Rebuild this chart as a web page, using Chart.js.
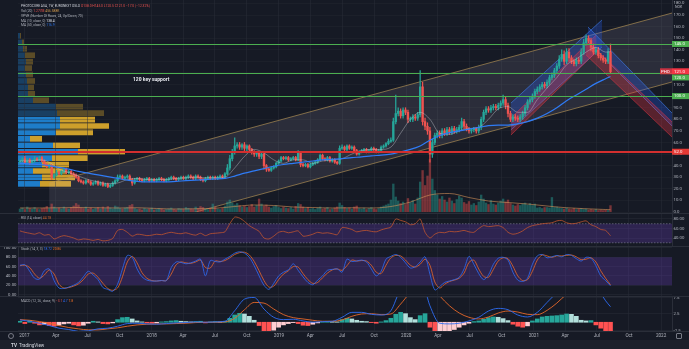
<!DOCTYPE html>
<html>
<head>
<meta charset="utf-8">
<title>PHOTOCURE ASA, 1W</title>
<script src="https://cdn.jsdelivr.net/npm/chart.js@4.4.1/dist/chart.umd.min.js"></script>
<style>
  html, body { margin: 0; padding: 0; background: #161a25; }
  #wrap { position: relative; width: 689px; height: 349px; overflow: hidden; background: #161a25;
          font-family: Roboto, "Liberation Sans", Arial, sans-serif; }
  #wrap canvas { position: absolute; left: 0; }
  .sep { position: absolute; left: 0; width: 689px; height: 1px; background: #2a2e39; }
  .txt { position: absolute; white-space: nowrap; color: #b2b5be; font-size: 3.3px; line-height: 4px; }
  .dn { color: #ef5350; }
  #foot { position: absolute; left: 0; top: 340px; width: 689px; height: 9px; background: #1c202b; }
  #foot span { position: absolute; top: 2.5px; font-size: 4.6px; line-height: 5px; color: #d1d4dc; }
  .note { position: absolute; white-space: nowrap; color: #e8eaf0; font-size: 5px; font-weight: bold; line-height: 6px; }
  .ico { position: absolute; width: 4px; height: 4px; border: 0.6px solid #787b86; border-radius: 50%; }
</style>
</head>
<body>
<div id="wrap">
  <canvas id="vp" width="689" height="213" style="top:0"></canvas>
  <canvas id="main" width="689" height="213" style="top:0"></canvas>
  <canvas id="rsi" width="689" height="33" style="top:213px"></canvas>
  <canvas id="stoch" width="689" height="50" style="top:246px"></canvas>
  <canvas id="macd" width="689" height="44" style="top:296px"></canvas>
  <div class="sep" style="top:213px"></div>
  <div class="sep" style="top:246px"></div>
  <div class="sep" style="top:296px"></div>
  <div class="sep" style="top:331px"></div>

  <div class="txt" style="left:21px;top:4px"><span style="color:#d1d4dc">PHOTOCURE ASA, 1W, EURONEXT OSLO</span> <span class="dn">O138.0 H145.0 L120.5 C121.0 −17.0 (−12.32%)</span></div>
  <div class="txt" style="left:21px;top:9px">Vol (20) <span class="dn">1.277M</span> <span style="color:#d39a4c">456.588K</span></div>
  <div class="txt" style="left:21px;top:13.7px">VPVR (Number Of Rows, 24, Up/Down, 70)</div>
  <div class="txt" style="left:21px;top:18.7px">MA (10, close, 0) <span style="color:#e0e3eb">138.4</span></div>
  <div class="txt" style="left:21px;top:23.3px">MA (50, close, 0) <span style="color:#2f7bf5">116.9</span></div>
  <div class="note" style="left:133px;top:76px">120 key support</div>

  <div class="txt" style="left:21px;top:216.3px">RSI (14, close) <span style="color:#d2632e">44.78</span></div>
  <div class="txt" style="left:21px;top:247px">Stoch (14, 3, 3) <span style="color:#2f6df5">18.72</span> <span style="color:#f07026">20.86</span></div>
  <div class="txt" style="left:21px;top:298.7px">MACD (12, 26, close, 9) <span class="dn">−3.1</span> <span style="color:#2f6df5">4.7</span> <span style="color:#f07026">7.8</span></div>

  <div class="ico" style="left:8px;top:333px"></div>
  <div class="ico" style="left:676px;top:333px;border-radius:1px"></div>
  <div id="foot"><span style="left:11px;font-weight:bold">TV</span><span style="left:19px">TradingView</span></div>
</div>

<script>
Chart.defaults.font.family = 'Roboto, "Liberation Sans", sans-serif';
Chart.defaults.animation = false;

// weekly bars, week 0 = week of 19 Dec 2016
const firstWeek = Date.UTC(2016, 11, 19);
const weekOf = d => (Date.parse(d) - firstWeek) / 604800000;

const timeTickDates = ['2017-01-01', '2017-04-01', '2017-07-01', '2017-10-01', '2018-01-01', '2018-04-01', '2018-07-01',
  '2018-10-01', '2019-01-01', '2019-04-01', '2019-07-01', '2019-10-01', '2020-01-01', '2020-04-01', '2020-07-01',
  '2020-10-01', '2021-01-01', '2021-04-01', '2021-07-01', '2021-10-01', '2022-01-01'];
const timeTickLabels = ['2017', 'Apr', 'Jul', 'Oct', '2018', 'Apr', 'Jul', 'Oct', '2019', 'Apr', 'Jul', 'Oct',
  '2020', 'Apr', 'Jul', 'Oct', '2021', 'Apr', 'Jul', 'Oct', '2022'];
const tickWeeks = timeTickDates.map(weekOf);

// price (NOK), weekly closes
const firstOpen = 43;
const closes = [
  44, 46, 43, 45, 42, 44, 46, 45, 47, 44,
  41, 39, 40, 30, 32, 34, 33, 35, 37, 34,
  35, 33, 32, 30, 27, 26, 25, 27, 26, 24,
  25, 26, 24, 25, 23, 24, 22, 23, 25, 27,
  30, 31, 29, 30, 31, 28, 25, 28, 29, 28,
  27, 28, 29, 27, 28, 27, 28, 29, 28, 27,
  28, 29, 30, 29, 28, 29, 30, 29, 30, 31,
  30, 29, 31, 30, 28, 27, 29, 30, 29, 30,
  29, 30, 31, 30, 33, 38, 46, 52, 57, 58,
  56, 58, 55, 57, 54, 52, 50, 51, 48, 50,
  40, 37, 36, 38, 39, 42, 44, 47, 46, 47,
  45, 46, 47, 45, 51, 41, 40, 41, 39, 41,
  42, 43, 45, 49, 46, 45, 47, 44, 45, 43,
  42, 55, 56, 54, 57, 55, 56, 53, 50, 52,
  53, 54, 52, 53, 55, 54, 52, 53, 56, 57,
  59, 61, 62, 78, 85, 87, 83, 88, 86, 80,
  80, 82, 81, 84, 108, 78, 74, 70, 50, 60,
  66, 68, 66, 70, 68, 71, 69, 72, 70, 71,
  73, 78, 74, 72, 70, 71, 72, 70, 73, 80,
  86, 89, 88, 90, 91, 90, 92, 94, 97, 92,
  85, 80, 82, 81, 80, 82, 85, 90, 95, 97,
  100, 104, 106, 108, 110, 109, 112, 116, 118, 122,
  126, 132, 136, 130, 138, 133, 130, 128, 131, 130,
  138, 146, 150, 148, 142, 138, 140, 135, 133, 131,
  130, 138, 121
];
// wick length above / below the body
const wickUp = [
  1, 1, 2, 1, 1, 1, 2, 1, 1, 1,
  1, 1, 1, 1, 1, 2, 1, 1, 1, 1,
  1, 1, 1, 1, 1, 1, 1, 1, 1, 1,
  1, 1, 1, 1, 1, 1, 1, 1, 1, 1,
  2, 1, 1, 1, 1, 1, 1, 1, 1, 1,
  1, 1, 1, 1, 1, 1, 1, 1, 1, 1,
  1, 1, 1, 1, 1, 1, 1, 1, 1, 1,
  1, 1, 1, 1, 1, 1, 1, 1, 1, 1,
  1, 1, 1, 1, 1, 3, 3, 2, 7, 2,
  2, 1, 2, 1, 1, 1, 1, 1, 1, 2,
  1, 1, 1, 1, 1, 1, 1, 1, 1, 1,
  1, 1, 1, 1, 2, 1, 1, 1, 1, 1,
  1, 1, 1, 1, 1, 1, 1, 1, 1, 1,
  1, 2, 2, 1, 1, 1, 1, 1, 1, 1,
  1, 1, 1, 1, 1, 1, 1, 1, 1, 1,
  1, 2, 2, 3, 16, 3, 2, 2, 2, 2,
  2, 2, 2, 2, 14, 4, 3, 3, 3, 3,
  2, 2, 2, 2, 2, 2, 2, 2, 2, 2,
  2, 3, 2, 2, 1, 1, 1, 1, 2, 2,
  2, 2, 2, 2, 2, 2, 2, 2, 4, 2,
  2, 2, 2, 2, 2, 2, 2, 2, 2, 2,
  2, 2, 2, 2, 2, 2, 2, 2, 2, 2,
  2, 3, 4, 3, 3, 3, 2, 2, 2, 2,
  3, 3, 3, 2, 2, 3, 2, 2, 2, 2,
  2, 3, 7
];
const wickDn = [
  1, 1, 1, 1, 1, 1, 1, 1, 1, 1,
  1, 1, 1, 2, 1, 1, 1, 1, 1, 1,
  1, 1, 1, 1, 1, 1, 1, 1, 1, 1,
  1, 1, 1, 1, 1, 1, 1, 1, 1, 1,
  1, 1, 1, 1, 1, 1, 2, 1, 1, 1,
  1, 1, 1, 1, 1, 1, 1, 1, 1, 1,
  1, 1, 1, 1, 1, 1, 1, 1, 1, 1,
  1, 1, 1, 1, 1, 1, 1, 1, 1, 1,
  1, 1, 1, 1, 1, 1, 2, 2, 2, 2,
  2, 2, 2, 2, 2, 2, 2, 2, 2, 2,
  3, 2, 1, 1, 1, 1, 1, 1, 1, 1,
  1, 1, 1, 1, 1, 2, 1, 1, 1, 1,
  1, 1, 1, 1, 1, 1, 1, 1, 1, 1,
  1, 1, 1, 1, 1, 1, 1, 1, 1, 1,
  1, 1, 1, 1, 1, 1, 1, 1, 1, 1,
  1, 1, 1, 1, 2, 2, 2, 2, 2, 3,
  2, 2, 2, 2, 2, 3, 3, 3, 7, 3,
  2, 2, 2, 2, 2, 2, 2, 2, 2, 2,
  2, 2, 2, 2, 2, 2, 2, 2, 2, 2,
  2, 2, 2, 2, 2, 2, 2, 2, 2, 3,
  3, 2, 2, 2, 2, 2, 2, 2, 2, 2,
  2, 2, 2, 2, 2, 2, 2, 2, 2, 2,
  2, 2, 2, 3, 2, 3, 2, 2, 2, 2,
  2, 2, 2, 2, 3, 2, 2, 2, 2, 2,
  2, 2, 1
];
// weekly volume, millions of shares
const volumes = [
  0.6, 0.8, 0.5, 1.0, 0.7, 0.6, 0.9, 0.6, 0.5, 0.7,
  0.8, 1.1, 0.7, 1.6, 1.0, 0.7, 0.8, 0.6, 1.0, 0.7,
  0.6, 0.9, 1.2, 1.7, 1.4, 0.8, 0.7, 1.0, 0.6, 0.8,
  0.5, 0.7, 0.9, 0.6, 1.0, 0.7, 1.1, 0.8, 0.6, 1.2,
  1.0, 0.7, 0.6, 0.8, 0.9, 1.3, 1.5, 0.7, 0.5, 0.6,
  0.4, 0.7, 0.5, 0.6, 0.8, 0.4, 0.5, 0.7, 0.6, 0.4,
  0.5, 0.6, 0.8, 0.5, 0.4, 0.7, 0.6, 0.5, 0.9, 0.7,
  0.6, 0.5, 1.0, 0.7, 1.1, 0.9, 0.6, 0.5, 0.7, 1.6,
  1.0, 0.6, 0.5, 0.7, 1.2, 2.0, 2.4, 1.8, 1.4, 1.7,
  1.3, 1.0, 1.2, 0.9, 1.1, 1.5, 1.0, 1.3, 2.6, 1.6,
  1.2, 1.4, 1.0, 0.8, 1.1, 1.3, 0.9, 0.7, 1.0, 0.8,
  0.7, 0.9, 0.6, 1.1, 1.7, 1.5, 1.0, 0.7, 0.9, 0.6,
  0.7, 0.5, 0.8, 1.0, 0.6, 0.7, 0.9, 0.5, 0.6, 0.8,
  1.0, 1.8, 1.3, 0.9, 0.7, 0.8, 0.6, 1.0, 1.2, 0.7,
  0.6, 0.8, 0.5, 0.7, 0.9, 0.6, 0.5, 0.7, 1.0, 1.2,
  1.4, 1.6, 2.4, 5.6, 3.0, 2.2, 1.7, 2.0, 1.5, 2.7,
  1.9, 2.3, 1.6, 2.8, 6.0, 8.3, 5.3, 7.2, 10.5, 6.6,
  4.3, 3.4, 2.6, 3.1, 2.4, 2.0, 2.8, 2.2, 1.7, 2.5,
  3.2, 2.8, 1.9, 1.6, 2.1, 1.4, 1.7, 1.3, 2.0, 3.4,
  2.6, 1.8, 1.5, 2.3, 1.6, 1.4, 1.8, 2.2, 2.6, 2.0,
  2.4, 1.7, 1.4, 1.2, 1.5, 1.3, 1.6, 1.8, 1.4, 1.7,
  1.3, 1.6, 0.8, 0.9, 0.7, 0.9, 0.9, 0.8, 2.9, 0.9,
  1.0, 0.8, 0.7, 0.6, 0.8, 0.6, 0.5, 0.7, 0.5, 0.6,
  0.7, 0.5, 0.6, 0.4, 0.5, 0.4, 0.5, 0.3, 0.4, 0.3,
  0.4, 0.3, 1.277
];

// moving averages, read every 4 weeks
const maWeeks = Array.from({ length: 61 }, (_, k) => 4 * k).concat([242]);
const maFast = [
  44, 44, 45, 43, 37, 34, 31, 28, 26, 24.5,
  25, 28, 29, 28, 28, 28, 29, 29.5, 30, 29.5,
  29.5, 30, 38, 48, 54, 51, 45, 42, 45, 45,
  42, 44, 45, 46, 50, 53, 54, 54, 56, 68,
  80, 86, 80, 68, 67, 70, 72, 73, 80, 89,
  91, 86, 86, 97, 107, 116, 127, 132, 138, 142,
  138, 138.4
];
const maSlow = [
  42, 41.5, 41, 40, 38.5, 37, 35, 33.5, 32, 30.5,
  29, 27.5, 26.5, 26, 26, 26, 26.5, 27, 27.5, 28,
  28.5, 29, 31, 33.5, 35.5, 37.5, 39.5, 41, 42, 43,
  44, 45, 45.5, 46, 47, 47.5, 48.5, 49, 50, 52,
  54, 57, 62, 66, 68.5, 70, 71.5, 73, 74.5, 75,
  75, 76, 78, 81, 85, 90, 96, 101, 106, 111,
  115, 116.9
];
// 20-week volume average, read every 8 weeks
const volMaWeeks = Array.from({ length: 31 }, (_, k) => 8 * k).concat([242]);
const volMa = [
  0.8, 0.8, 0.85, 0.9, 0.85, 0.8, 0.85, 0.7, 0.6, 0.65,
  0.75, 1.1, 1.4, 1.3, 1.0, 0.9, 0.8, 0.85, 0.8, 1.1,
  2.0, 3.4, 3.7, 2.9, 2.2, 1.9, 1.6, 1.2, 0.85, 0.65,
  0.5, 0.457
];

// oscillators, read every 2 weeks
const oscWeeks = Array.from({ length: 122 }, (_, k) => 2 * k);
const rsi = [
  55, 52, 50, 48, 51, 46, 47, 38, 42, 45,
  43, 40, 36, 38, 37, 35, 37, 34, 35, 39,
  56, 58, 52, 44, 48, 47, 45, 46, 48, 47,
  50, 52, 50, 49, 51, 48, 46, 50, 45, 49,
  50, 51, 53, 70, 84, 82, 75, 66, 60, 54,
  40, 38, 44, 52, 54, 51, 53, 55, 44, 45,
  48, 52, 50, 51, 49, 47, 62, 61, 58, 53,
  55, 56, 54, 53, 57, 60, 63, 80, 77, 74,
  68, 70, 80, 52, 40, 48, 52, 51, 54, 53,
  54, 56, 53, 52, 60, 66, 64, 65, 66, 62,
  52, 48, 50, 55, 62, 66, 68, 70, 71, 72,
  76, 77, 72, 70, 71, 74, 76, 68, 64, 58,
  56, 44.78
];
const stochK = [
  63, 64, 50, 35, 33, 51, 55, 30, 14, 13,
  16, 20, 26, 38, 50, 42, 32, 15, 11, 7,
  22, 55, 84, 80, 55, 38, 31, 29, 29, 30,
  30, 58, 70, 69, 66, 68, 72, 76, 40, 73,
  71, 70, 76, 82, 89, 92, 89, 80, 62, 40,
  20, 11, 24, 40, 48, 53, 66, 52, 38, 26,
  21, 31, 40, 52, 54, 55, 48, 76, 71, 72,
  74, 70, 55, 40, 50, 76, 82, 86, 80, 68,
  57, 60, 70, 81, 44, 10, 17, 26, 29, 32,
  37, 55, 82, 65, 45, 32, 42, 65, 78, 80,
  74, 48, 31, 28, 35, 65, 83, 86, 79, 81,
  84, 81, 86, 84, 77, 72, 80, 78, 62, 40,
  30, 18.72
];
const stochD = [
  62, 63, 58, 44, 35, 42, 53, 44, 22, 14,
  15, 18, 23, 32, 44, 46, 37, 24, 13, 9,
  14, 38, 70, 82, 68, 47, 35, 30, 29, 30,
  30, 44, 64, 70, 68, 67, 70, 74, 58, 57,
  72, 71, 73, 79, 86, 90, 91, 85, 71, 51,
  30, 16, 18, 32, 44, 51, 60, 59, 45, 32,
  24, 26, 36, 46, 53, 55, 52, 62, 74, 72,
  73, 72, 63, 48, 45, 63, 79, 84, 83, 74,
  63, 59, 65, 76, 63, 27, 14, 22, 28, 31,
  35, 46, 69, 74, 55, 39, 37, 54, 72, 79,
  77, 61, 40, 30, 32, 50, 74, 85, 83, 80,
  83, 83, 84, 85, 81, 75, 76, 79, 70, 51,
  35, 20.86
];
const macdHist = [
  0.3, -0.4, 0.5, -0.3, -0.8, -0.6, -1.0, -1.2, -0.9, -0.5,
  -0.3, -0.8, -1.1, -0.9, -0.3, 0.3, 0.1, -0.4, -0.5, -0.2,
  0.8, 1.4, 1.5, 1.0, 0.4, 0.1, -0.2, -0.3, -0.2, 0.1,
  0.2, 0.4, 0.5, 0.3, 0.2, 0.1, 0.2, 0.3, -0.2, 0.1,
  0.2, 0.1, 0.3, 1.2, 2.2, 2.7, 2.5, 1.8, 0.6, -1.0,
  -2.6, -3.0, -2.4, -1.5, -0.8, -0.4, -0.1, -0.4, -0.9, -1.0,
  -0.6, -0.2, 0.1, 0.3, 0.2, 0.1, 0.8, 1.2, 1.0, 0.6,
  0.3, 0.2, -0.1, -0.3, 0.1, 0.5, 1.2, 2.4, 3.0, 2.6,
  1.4, 0.8, 2.0, 2.6, -1.5, -3.0, -3.0, -3.0, -2.8, -2.2,
  -1.5, -0.8, -0.3, 0.2, 0.4, 0.9, 1.4, 1.6, 1.5, 1.1,
  0.5, -0.6, -1.2, -1.5, -1.1, 0.4, 1.0, 1.6, 1.8, 1.9,
  2.0, 2.2, 2.5, 2.4, 1.8, 0.6, 0.4, 0.5, -0.8, -1.8,
  -2.6, -3.1
];
// MACD and signal lines, read every 4 weeks
const macdLine = [
  0.7, 0.3, -0.3, -1.0, -1.8, -2.2, -2.8, -2.6, -2.0, -1.8,
  -1.2, -0.4, -0.3, -0.5, -0.6, -0.4, -0.2, -0.1, 0.1, 0.0,
  0.1, 0.3, 3.5, 7.0, 7.5, 4.0, 1.5, 0.8, 0.9, 0.4,
  0.0, 0.2, 0.3, 1.5, 3.0, 3.0, 2.4, 2.2, 3.5, 10,
  12, 14, 5, -0.3, -0.5, -0.3, 0.4, 1.5, 3.4, 4.2,
  3.8, 2.2, 1.6, 3.0, 6.0, 9, 12, 13, 13, 11,
  6.5, 4.7
];
const macdSignal = [
  0.8, 0.6, 0.2, -0.3, -1.0, -1.6, -2.0, -2.3, -2.3, -2.0,
  -1.7, -1.2, -0.8, -0.6, -0.5, -0.5, -0.4, -0.3, -0.1, 0.0,
  0.0, 0.1, 1.2, 3.8, 6.0, 5.8, 4.0, 2.3, 1.4, 1.0,
  0.6, 0.3, 0.3, 0.7, 1.8, 2.5, 2.6, 2.3, 2.5, 5.5,
  9, 11, 11.5, 8, 5, 2.8, 1.5, 1.0, 1.6, 2.8,
  3.4, 3.1, 2.4, 2.3, 3.6, 5.8, 8.5, 10.5, 11.8, 11.5,
  9.0, 7.8
];

// visible-range volume profile, rows from the bottom up (row width in 100k shares)
const vpBottom = 21.5;
const vpStep = 5.55;
const vpValueAreaRows = 11;
const vpUp = [22, 24, 15, 24, 34, 60, 35, 12, 38, 42, 42, 39, 38, 15, 10, 10, 9, 8, 7, 8, 7, 5, 4, 2];
const vpDown = [31, 33, 34, 27, 36, 47, 27, 12, 37, 49, 35, 47, 27, 16, 7, 6, 8, 7, 7, 7, 10, 4, 2, 1];

// drawn levels and channels: [week, price]
const greenLevels = [145, 120, 100];
const redLevel = 52;
const lastPrice = 121.0;
const channel = { up: [[12, 25.0], [267.2, 171.7]], lo: [[12, -34.5], [267.2, 112.2]] };
const blueRise = { up: [[201.2, 94.0], [238.5, 165.7]], lo: [[201.2, 70.8], [238.5, 142.4]] };
const redRise = { up: [[201.2, 81.1], [236.1, 152.7]], lo: [[201.2, 66.4], [236.1, 138.0]] };
const blueFall = { up: [[232.8, 159.6], [267.2, 85.4]], lo: [[232.8, 146.7], [267.2, 74.2]] };
const redFall = { up: [[232, 148.4], [267.2, 77.7]], lo: [[232, 135.5], [267.2, 64.7]] };

const xMin = -0.8, xMax = 267.2;
const priceMax = 182.95;
const upCol = '#26a69a', dnCol = '#ef5350';
const gridCol = 'rgba(42,46,57,0.45)';
const axisText = '#b2b5be';

const opens = closes.map((c, i) => i === 0 ? firstOpen : closes[i - 1]);
const highs = closes.map((c, i) => Math.max(opens[i], c) + wickUp[i]);
const lows = closes.map((c, i) => Math.min(opens[i], c) - wickDn[i]);
const candleCols = closes.map((c, i) => c >= opens[i] ? upCol : dnCol);
const volCols = closes.map((c, i) => c >= opens[i] ? 'rgba(38,166,154,0.45)' : 'rgba(239,83,80,0.45)');
const pts = (ws, vs) => ws.map((w, k) => ({ x: w, y: vs[k] }));

function timeAxis(showLabels) {
  return {
    type: 'linear', min: xMin, max: xMax, offset: false,
    grid: { color: gridCol, drawTicks: false, offset: false },
    border: { display: false },
    afterBuildTicks: s => { s.ticks = tickWeeks.map(v => ({ value: v })); },
    afterFit: s => { s.height = showLabels ? 9 : 0; },
    ticks: { display: showLabels, autoSkip: false, maxRotation: 0, padding: 2, color: axisText,
      font: { size: 4.6 }, callback: (v, i) => timeTickLabels[i] }
  };
}

function valueAxis(pos, min, max, ticks, digits, width) {
  return {
    position: pos, min, max,
    grid: { color: gridCol, drawTicks: false },
    border: { display: true, color: '#2a2e39' },
    afterBuildTicks: s => { s.ticks = ticks.map(v => ({ value: v })); },
    afterFit: s => { s.width = width; s.paddingTop = 0; s.paddingBottom = 0; },
    ticks: { color: axisText, font: { size: 4.3 }, padding: 1.5, autoSkip: false, callback: v => v.toFixed(digits) }
  };
}

// a blank axis that keeps its place in the layout but draws nothing
function bareAxis(min, max, horizontal) {
  return {
    type: 'linear', min, max, offset: false,
    grid: { display: false }, border: { display: false }, ticks: { display: false },
    afterFit: s => { if (horizontal) { s.height = 0; } else { s.width = 0; s.paddingTop = 0; s.paddingBottom = 0; } }
  };
}

// volume profile on its own layer under the price pane
const vpMid = vpUp.map((u, r) => vpBottom + (r + 0.5) * vpStep);
const vpBlue = vpUp.map((u, r) => r < vpValueAreaRows ? 'rgba(33,150,243,0.8)' : 'rgba(33,150,243,0.3)');
const vpGold = vpUp.map((u, r) => r < vpValueAreaRows ? 'rgba(251,192,45,0.8)' : 'rgba(251,192,45,0.3)');
new Chart(document.getElementById('vp'), {
  type: 'bar',
  data: { datasets: [
    { data: vpMid.map((m, r) => ({ y: m, x: [0, vpUp[r]] })), backgroundColor: vpBlue },
    { data: vpMid.map((m, r) => ({ y: m, x: [vpUp[r], vpUp[r] + vpDown[r]] })), backgroundColor: vpGold }
  ] },
  options: {
    indexAxis: 'y', responsive: false, animation: false, events: [],
    layout: { padding: { left: 18, right: 17, top: 0, bottom: 1 } },
    plugins: { legend: { display: false }, tooltip: { enabled: false } },
    datasets: { bar: { grouped: false, categoryPercentage: 1, barPercentage: 0.88 } },
    scales: { x: bareAxis(0, 654, true), y: bareAxis(0, priceMax, false) }
  }
});

function pathBand(ctx, chart, b, fill, edge) {
  const x = chart.scales.x, y = chart.scales.y;
  const p = q => [x.getPixelForValue(q[0]), y.getPixelForValue(q[1])];
  const a = p(b.up[0]), c = p(b.up[1]), d = p(b.lo[1]), e = p(b.lo[0]);
  ctx.beginPath();
  ctx.moveTo(a[0], a[1]); ctx.lineTo(c[0], c[1]); ctx.lineTo(d[0], d[1]); ctx.lineTo(e[0], e[1]);
  ctx.closePath();
  ctx.fillStyle = fill;
  ctx.fill();
  ctx.strokeStyle = edge;
  ctx.lineWidth = 0.8;
  ctx.beginPath(); ctx.moveTo(a[0], a[1]); ctx.lineTo(c[0], c[1]); ctx.stroke();
  ctx.beginPath(); ctx.moveTo(e[0], e[1]); ctx.lineTo(d[0], d[1]); ctx.stroke();
}

// channel and trend bands under the candles, levels and price tags over them
const drawings = {
  id: 'drawings',
  beforeDatasetsDraw(chart) {
    const { ctx, chartArea: a } = chart;
    ctx.save();
    ctx.beginPath();
    ctx.rect(a.left, a.top, a.right - a.left, a.bottom - a.top);
    ctx.clip();
    pathBand(ctx, chart, channel, 'rgba(200,190,215,0.12)', 'rgba(196,160,90,0.75)');
    pathBand(ctx, chart, blueRise, 'rgba(41,98,255,0.28)', 'rgba(66,133,244,0.7)');
    pathBand(ctx, chart, redRise, 'rgba(242,54,69,0.3)', 'rgba(242,54,69,0.6)');
    pathBand(ctx, chart, blueFall, 'rgba(41,98,255,0.28)', 'rgba(66,133,244,0.7)');
    pathBand(ctx, chart, redFall, 'rgba(242,54,69,0.3)', 'rgba(242,54,69,0.6)');
    ctx.restore();
  },
  afterDatasetsDraw(chart) {
    const { ctx, chartArea: a, scales: { y } } = chart;
    ctx.save();
    ctx.strokeStyle = '#4caf50';
    ctx.lineWidth = 1;
    greenLevels.forEach(v => {
      const py = Math.round(y.getPixelForValue(v)) + 0.5;
      ctx.beginPath(); ctx.moveTo(a.left, py); ctx.lineTo(a.right, py); ctx.stroke();
    });
    ctx.strokeStyle = '#d32f2f';
    ctx.lineWidth = 2;
    const ry = Math.round(y.getPixelForValue(redLevel));
    ctx.beginPath(); ctx.moveTo(a.left, ry); ctx.lineTo(a.right, ry); ctx.stroke();
    ctx.restore();
  },
  afterDraw(chart) {
    const { ctx, chartArea: a, scales: { y } } = chart;
    const tag = (v, bg, dy, prefix) => {
      const py = y.getPixelForValue(v) + dy;
      ctx.fillStyle = bg;
      ctx.fillRect(a.right, py - 3, 17, 6);
      if (prefix) {
        ctx.fillStyle = 'rgba(242,54,69,0.8)';
        ctx.fillRect(a.right - 12, py - 3, 12, 6);
      }
      ctx.fillStyle = '#ffffff';
      ctx.font = '4.3px Roboto, "Liberation Sans", sans-serif';
      ctx.textBaseline = 'middle';
      ctx.fillText(v.toFixed(1), a.right + 2, py + 0.2);
      if (prefix) ctx.fillText(prefix, a.right - 11, py + 0.2);
    };
    ctx.save();
    tag(greenLevels[0], '#4caf50', 0);
    tag(greenLevels[2], '#4caf50', 0);
    tag(redLevel, '#e53935', 0);
    tag(greenLevels[1], '#4caf50', 4.5);
    tag(lastPrice, '#f23645', -0.5, 'PHO');
    ctx.fillStyle = axisText;
    ctx.font = '3.6px Roboto, "Liberation Sans", sans-serif';
    ctx.textBaseline = 'middle';
    ctx.fillText('NOK', a.right + 3, 7.5);
    ctx.restore();
  }
};

new Chart(document.getElementById('main'), {
  type: 'bar',
  data: {
    datasets: [
      { type: 'line', data: pts(maWeeks, maSlow), borderColor: '#2f7bf5', borderWidth: 1.2, pointRadius: 0,
        cubicInterpolationMode: 'monotone' },
      { type: 'line', data: pts(maWeeks, maFast), borderColor: 'rgba(200,202,210,0.6)', borderWidth: 0.7,
        pointRadius: 0, cubicInterpolationMode: 'monotone' },
      { data: closes.map((c, i) => ({ x: i, y: [opens[i], c] })), backgroundColor: candleCols,
        barThickness: 1.7, minBarLength: 0.8, grouped: false },
      { data: closes.map((c, i) => ({ x: i, y: [lows[i], highs[i]] })), backgroundColor: candleCols,
        barThickness: 0.6, grouped: false },
      { type: 'line', yAxisID: 'vol', data: pts(volMaWeeks, volMa), borderColor: 'rgba(214,150,90,0.75)',
        borderWidth: 0.8, pointRadius: 0, cubicInterpolationMode: 'monotone' },
      { yAxisID: 'vol', data: volumes.map((v, i) => ({ x: i, y: v })), backgroundColor: volCols,
        barThickness: 1.7, grouped: false }
    ]
  },
  options: {
    responsive: false, animation: false, events: [],
    layout: { padding: { left: 18, top: 0, right: 0, bottom: 1 } },
    plugins: { legend: { display: false }, tooltip: { enabled: false } },
    scales: {
      x: timeAxis(false),
      y: Object.assign(valueAxis('right', 0, priceMax, Array.from({ length: 19 }, (_, k) => 10 * k), 1, 17),
        { grid: { color: 'rgba(42,46,57,0.3)', drawTicks: false } }),
      vol: { display: false, min: 0, max: 42.4 }
    }
  },
  plugins: [drawings]
});

function zone(lo, hi, dashed) {
  return {
    id: 'zone',
    beforeDatasetsDraw(chart) {
      const { ctx, chartArea: a, scales: { y } } = chart;
      const t = y.getPixelForValue(hi), b = y.getPixelForValue(lo);
      ctx.save();
      ctx.fillStyle = 'rgba(103,58,183,0.3)';
      ctx.fillRect(a.left, t, a.right - a.left, b - t);
      if (dashed) {
        ctx.strokeStyle = 'rgba(150,153,165,0.7)';
        ctx.lineWidth = 0.7;
        ctx.setLineDash([1.5, 1.5]);
        [t, b].forEach(py => { ctx.beginPath(); ctx.moveTo(a.left, py); ctx.lineTo(a.right, py); ctx.stroke(); });
      }
      ctx.restore();
    }
  };
}

const subOptions = (yAxis, padLeft, padRight, showTime) => ({
  responsive: false, animation: false, events: [],
  layout: { padding: { left: padLeft, right: padRight, top: 0, bottom: 0 } },
  plugins: { legend: { display: false }, tooltip: { enabled: false } },
  scales: { x: timeAxis(showTime), y: yAxis }
});

new Chart(document.getElementById('rsi'), {
  type: 'line',
  data: { datasets: [
    { data: pts(oscWeeks, rsi), borderColor: '#c2552f', borderWidth: 0.8, pointRadius: 0, tension: 0.25 }
  ] },
  options: subOptions(valueAxis('right', 23.2, 92.6, [40, 60, 80], 2, 17), 18, 0, false),
  plugins: [zone(30, 70, true)]
});

new Chart(document.getElementById('stoch'), {
  type: 'line',
  data: { datasets: [
    { data: pts(oscWeeks, stochK), borderColor: '#2f6df5', borderWidth: 0.8, pointRadius: 0, tension: 0.3 },
    { data: pts(oscWeeks, stochD), borderColor: '#e8692a', borderWidth: 0.8, pointRadius: 0, tension: 0.3 }
  ] },
  options: subOptions(valueAxis('left', -3.2, 104.3, [0, 20, 40, 60, 80, 100], 2, 18), 0, 17, false),
  plugins: [zone(20, 80, false)]
});

const histCols = macdHist.map((h, k) => {
  const prev = k ? macdHist[k - 1] : 0;
  if (h >= 0) return h >= prev ? '#26a69a' : '#b2dfdb';
  return h < prev ? '#ff5252' : '#ffcdd2';
});

new Chart(document.getElementById('macd'), {
  type: 'bar',
  data: { datasets: [
    { type: 'line', data: pts(maWeeks, macdLine), borderColor: '#2f6df5', borderWidth: 0.9, pointRadius: 0,
      cubicInterpolationMode: 'monotone' },
    { type: 'line', data: pts(maWeeks, macdSignal), borderColor: '#e8692a', borderWidth: 0.9, pointRadius: 0,
      cubicInterpolationMode: 'monotone' },
    { data: pts(oscWeeks, macdHist), backgroundColor: histCols, barThickness: 4, grouped: false }
  ] },
  options: subOptions(valueAxis('right', -2.65, 7.95, [-2.5, 2.5, 7.5], 1, 17), 18, 0, true)
});
</script>
</body>
</html>
